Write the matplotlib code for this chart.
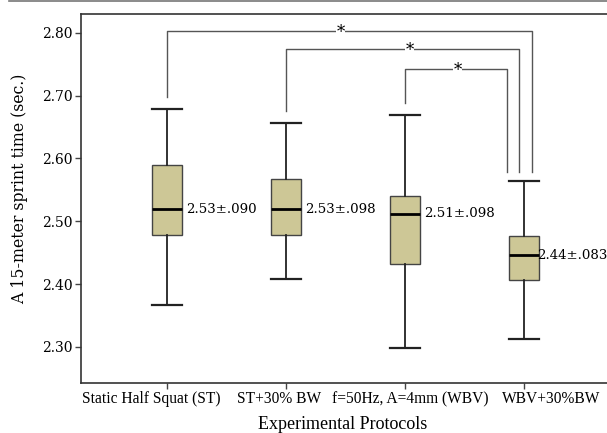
import matplotlib
matplotlib.use('Agg')
import matplotlib.pyplot as plt
from matplotlib.lines import Line2D

# data
protocols = ['Static Half Squat (ST)', 'ST+30% BW', 'f=50Hz, A=4mm (WBV)', 'WBV+30%BW']
whisker_low = [2.367, 2.409, 2.298, 2.312]
q1 = [2.479, 2.479, 2.432, 2.406]
median = [2.519, 2.519, 2.512, 2.446]
q3 = [2.589, 2.568, 2.541, 2.476]
whisker_high = [2.679, 2.657, 2.669, 2.564]
mean_sd = ['2.53±.090', '2.53±.098', '2.51±.098', '2.44±.083']

# significance brackets
bracket_left = [0, 1, 2]
bracket_right = [3.067, 2.958, 2.857]
bracket_top = [2.803, 2.774, 2.742]
bracket_left_bottom = [2.698, 2.675, 2.689]
bracket_right_bottom = 2.579
star_x = [1.462, 2.042, 2.445]

# the category names are not centred under their ticks in the original
label_shift = [-0.126, -0.059, 0.050, 0.235]
note_shift = [0.16, 0.16, 0.16, 0.115]

box_color = '#cdc796'
times = ['Liberation Serif', 'DejaVu Serif']
cambria = ['DejaVu Serif']

fig = plt.figure(figsize=(6.07, 4.33), dpi=100)
ax = fig.add_axes([0.1334, 0.1155, 0.8666, 0.8522])

stats = []
for i in range(len(protocols)):
    stats.append({'whislo': whisker_low[i], 'q1': q1[i], 'med': median[i],
                  'q3': q3[i], 'whishi': whisker_high[i], 'fliers': []})

ax.bxp(stats, positions=range(len(protocols)), widths=0.25, patch_artist=True,
       showfliers=False,
       boxprops=dict(facecolor=box_color, edgecolor='#444444', linewidth=1.0),
       medianprops=dict(color='black', linewidth=2.0),
       whiskerprops=dict(color='#222222', linewidth=1.3),
       capprops=dict(color='#222222', linewidth=1.6),
       capwidths=0.25)

# mean ± sd beside each box
for i in range(len(protocols)):
    ax.text(i + note_shift[i], median[i], mean_sd[i], ha='left', va='center',
            fontsize=9.6, family=cambria)

# brackets with stars
for k in range(len(bracket_left)):
    xl = bracket_left[k]
    xr = bracket_right[k]
    ax.plot([xl, xl, xr, xr],
            [bracket_left_bottom[k], bracket_top[k], bracket_top[k], bracket_right_bottom],
            color='#555555', linewidth=1.0)
    ax.text(star_x[k], bracket_top[k] - 0.002, '*', ha='center', va='center', fontsize=12,
            family=cambria, bbox=dict(facecolor='white', edgecolor='none', pad=0.5))

ax.set_xlim(-0.72, 3.70)
ax.set_ylim(2.2427, 2.830)
ax.set_xticks(range(len(protocols)))
ax.set_xticklabels([])
for i in range(len(protocols)):
    ax.text(i + label_shift[i], -0.022, protocols[i], transform=ax.get_xaxis_transform(),
            ha='center', va='top', fontsize=11.2, family=times)

ax.set_yticks([2.30, 2.40, 2.50, 2.60, 2.70, 2.80])
ax.set_yticklabels(['2.30', '2.40', '2.50', '2.60', '2.70', '2.80'], fontsize=10, family=cambria)
ax.tick_params(axis='both', length=4, width=1.0, color='#444444', pad=2)

ax.spines['right'].set_visible(False)
for s in ['left', 'bottom', 'top']:
    ax.spines[s].set_color('#333333')
    ax.spines[s].set_linewidth(1.2)

ax.set_xlabel('Experimental Protocols', fontsize=13, family=times, va='center')
ax.xaxis.set_label_coords(0.498, -0.112)
ax.set_ylabel('A 15-meter sprint time (sec.)', fontsize=11.3, family=cambria, va='center')
ax.yaxis.set_label_coords(-0.116, 0.526)

# thin grey rule across the very top
fig.add_artist(Line2D([0.015, 1.0], [0.998, 0.998], color='#777777', linewidth=1.2))

fig.savefig('out.png', dpi=100)
